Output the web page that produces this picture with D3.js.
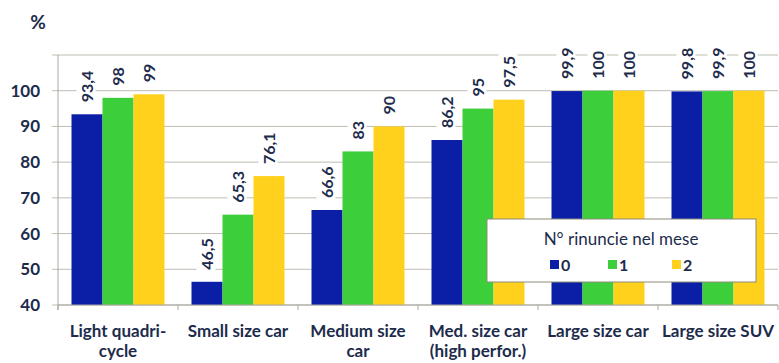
<!DOCTYPE html>
<html><head><meta charset="utf-8">
<script src="https://cdn.jsdelivr.net/npm/d3@7"></script>
<style>body{margin:0;background:#fff;}svg{display:block;}</style>
</head><body>
<svg id="c" width="779" height="363"></svg>
<script>
const categories = [["Light quadri-","cycle"],["Small size car"],["Medium size","car"],["Med. size car","(high perfor.)"],["Large size car"],["Large size SUV"]];
const seriesNames = ["0","1","2"];
const series0 = [93.4, 46.5, 66.6, 86.2, 99.9, 99.8];
const series1 = [98, 65.3, 83, 95, 100, 99.9];
const series2 = [99, 76.1, 90, 97.5, 100, 100];
const yTicks = [40, 50, 60, 70, 80, 90, 100];
const colors = ["#0a1ea6", "#3dce3b", "#ffd11c"];
const allSeries = [series0, series1, series2];

const svg = d3.select("#c");
const font = "Lato, 'Open Sans', sans-serif";
const txt = "#1d2c4c";
const L = 58, R = 778, T = 55, B = 305;

const x = d3.scaleBand().domain(d3.range(categories.length)).range([L, R]).paddingInner(0.225).paddingOuter(0.1125);
const xs = d3.scaleBand().domain(d3.range(3)).range([0, x.bandwidth()]);
const y = d3.scaleLinear().domain([40, 110]).range([B, T]);

// gridlines
const gridVals = yTicks.concat([110]);
svg.append("g").selectAll("line").data(gridVals).join("line")
  .attr("x1", L - 6).attr("x2", R).attr("y1", d => y(d)).attr("y2", d => y(d))
  .attr("stroke", "#bdbdb3").attr("stroke-width", 1);

// y labels
svg.append("g").selectAll("text").data(yTicks).join("text")
  .attr("x", 40).attr("y", d => y(d)).attr("dy", "0.35em").attr("text-anchor", "end")
  .attr("font-family", font).attr("font-weight", "bold").attr("font-size", 17).attr("fill", txt)
  .text(d => d);

svg.append("text").attr("x", 38).attr("y", 22).attr("dy", "0.35em").attr("text-anchor", "middle")
  .attr("font-family", font).attr("font-weight", "bold").attr("font-size", 19).attr("fill", txt).text("%");

// bars
const g = svg.append("g");
allSeries.forEach((s, si) => {
  g.append("g").selectAll("rect").data(s).join("rect")
    .attr("x", (d, i) => x(i) + xs(si))
    .attr("width", xs.bandwidth())
    .attr("y", d => y(d)).attr("height", d => B - y(d))
    .attr("fill", colors[si]);
});

// value labels
const fmt = v => String(v).replace(".", ",");
allSeries.forEach((s, si) => {
  const lg = svg.append("g");
  s.forEach((d, i) => {
    const cx = x(i) + xs(si) + xs.bandwidth() / 2;
    const by = y(d) - 12;
    const t = lg.append("text")
      .attr("transform", `translate(${cx + 5.5},${by}) rotate(-90)`)
      .attr("font-family", font).attr("font-weight", "bold").attr("font-size", 16).attr("fill", txt)
      .text(fmt(d));
    const bb = t.node().getBBox();
    lg.insert("rect", "text").attr("transform", `translate(${cx + 5.5},${by}) rotate(-90)`)
      .attr("x", bb.x - 2).attr("y", bb.y).attr("width", bb.width + 4).attr("height", bb.height).attr("fill", "#fff");
  });
});

// axes lines
svg.append("line").attr("x1", L).attr("x2", L).attr("y1", T).attr("y2", B + 5).attr("stroke", "#a8a8a0");
svg.append("line").attr("x1", L).attr("x2", R).attr("y1", B).attr("y2", B).attr("stroke", "#a8a8a0");
const bounds = d3.range(categories.length + 1).map(i => L + i * (R - L) / categories.length);
svg.append("g").selectAll("line").data(bounds).join("line")
  .attr("x1", d => d).attr("x2", d => d).attr("y1", B).attr("y2", B + 5).attr("stroke", "#a8a8a0");

// category labels
categories.forEach((c, i) => {
  const t = svg.append("text").attr("text-anchor", "middle")
    .attr("font-family", font).attr("font-weight", "bold").attr("font-size", 17).attr("fill", txt);
  c.forEach((line, li) => {
    t.append("tspan").attr("x", x(i) + x.bandwidth() / 2).attr("y", 337 + li * 20).text(line);
  });
});

// legend
const lgd = svg.append("g");
lgd.append("rect").attr("x", 487).attr("y", 219).attr("width", 269).attr("height", 63)
  .attr("fill", "#fff").attr("stroke", "#8c8c78").attr("stroke-width", 1);
lgd.append("text").attr("x", 621).attr("y", 245).attr("text-anchor", "middle")
  .attr("font-family", font).attr("font-size", 17).attr("fill", txt).text("N° rinuncie nel mese");
const lx = [550, 608, 672];
seriesNames.forEach((n, i) => {
  lgd.append("rect").attr("x", lx[i]).attr("y", 260).attr("width", 9).attr("height", 9).attr("fill", colors[i]);
  lgd.append("text").attr("x", lx[i] + 11).attr("y", 265).attr("dy", "0.35em")
    .attr("font-family", font).attr("font-weight", "bold").attr("font-size", 16).attr("fill", txt).text(n);
});
</script>
</body></html>
